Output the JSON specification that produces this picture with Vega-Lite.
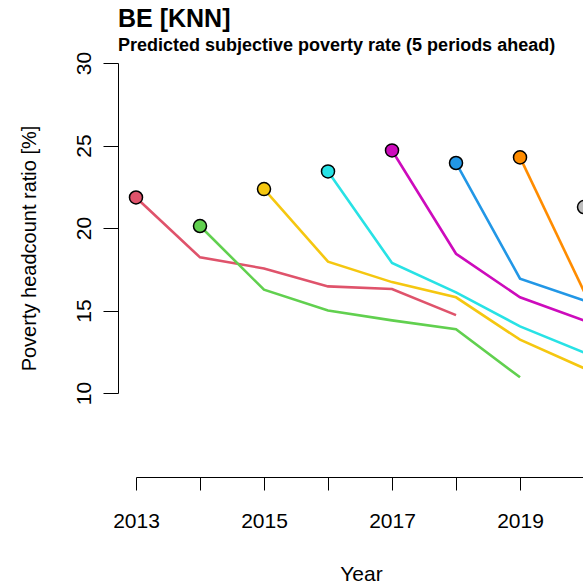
{
  "$schema": "https://vega.github.io/schema/vega-lite/v6.json",
  "autosize": {"type": "none"},
  "padding": {"left": 136, "top": 63, "right": 0, "bottom": 194},
  "width": 447,
  "height": 330,
  "background": "white",
  "config": {
    "view": {"stroke": null},
    "font": "Liberation Sans",
    "axis": {"domainColor": "black", "tickColor": "black", "labelColor": "black", "titleColor": "black", "grid": false, "labelFont": "Liberation Sans", "titleFont": "Liberation Sans", "titleFontWeight": "normal"}
  },
  "title": {
    "text": "BE [KNN]",
    "subtitle": "Predicted subjective poverty rate (5 periods ahead)",
    "anchor": "start",
    "frame": "group",
    "dx": -18,
    "offset": -4,
    "fontSize": 25,
    "fontWeight": "bold",
    "font": "Liberation Sans",
    "color": "black",
    "subtitleFont": "Liberation Sans",
    "subtitleFontSize": 18,
    "subtitleFontWeight": "bold",
    "subtitleColor": "black",
    "subtitlePadding": 5
  },
  "data": {
    "values": [
      {"origin": 2013, "year": 2013, "value": 21.85},
      {"origin": 2013, "year": 2014, "value": 18.22},
      {"origin": 2013, "year": 2015, "value": 17.55},
      {"origin": 2013, "year": 2016, "value": 16.46},
      {"origin": 2013, "year": 2017, "value": 16.3},
      {"origin": 2013, "year": 2018, "value": 14.72},
      {"origin": 2014, "year": 2014, "value": 20.12},
      {"origin": 2014, "year": 2015, "value": 16.26},
      {"origin": 2014, "year": 2016, "value": 15.0},
      {"origin": 2014, "year": 2017, "value": 14.4},
      {"origin": 2014, "year": 2018, "value": 13.86},
      {"origin": 2014, "year": 2019, "value": 10.95},
      {"origin": 2015, "year": 2015, "value": 22.36},
      {"origin": 2015, "year": 2016, "value": 17.96},
      {"origin": 2015, "year": 2017, "value": 16.72},
      {"origin": 2015, "year": 2018, "value": 15.8},
      {"origin": 2015, "year": 2019, "value": 13.23},
      {"origin": 2015, "year": 2020, "value": 11.5},
      {"origin": 2016, "year": 2016, "value": 23.43},
      {"origin": 2016, "year": 2017, "value": 17.88},
      {"origin": 2016, "year": 2018, "value": 16.1},
      {"origin": 2016, "year": 2019, "value": 14.04},
      {"origin": 2016, "year": 2020, "value": 12.45},
      {"origin": 2017, "year": 2017, "value": 24.7},
      {"origin": 2017, "year": 2018, "value": 18.44},
      {"origin": 2017, "year": 2019, "value": 15.8},
      {"origin": 2017, "year": 2020, "value": 14.4},
      {"origin": 2018, "year": 2018, "value": 23.94},
      {"origin": 2018, "year": 2019, "value": 16.93},
      {"origin": 2018, "year": 2020, "value": 15.6},
      {"origin": 2019, "year": 2019, "value": 24.28},
      {"origin": 2019, "year": 2020, "value": 16.15},
      {"origin": 2020, "year": 2020, "value": 21.27}
    ]
  },
  "encoding": {
    "x": {
      "field": "year", "type": "quantitative",
      "scale": {"domain": [2013, 2019.984], "nice": false, "zero": false},
      "axis": {
        "title": "Year", "titleFontSize": 21, "titleX": 225, "titleY": 103, "titleBaseline": "alphabetic", "titleAlign": "center",
        "values": [2013, 2014, 2015, 2016, 2017, 2018, 2019, 2020],
        "labelExpr": "datum.value % 2 == 1 ? datum.label : ''",
        "format": "d", "labelFontSize": 21, "labelPadding": 20, "tickSize": 13, "offset": 84,
        "labelOverlap": false, "labelBound": false, "labelFlush": false
      }
    },
    "y": {
      "field": "value", "type": "quantitative",
      "scale": {"domain": [10, 30], "nice": false, "zero": false},
      "axis": {
        "title": "Poverty headcount ratio [%]", "titleFontSize": 20, "titleAngle": 270, "titleX": -83, "titleY": 185, "titleBaseline": "alphabetic", "titleAlign": "center",
        "values": [10, 15, 20, 25, 30], "labelFontSize": 21, "labelAngle": 270, "labelAlign": "center", "labelBaseline": "alphabetic",
        "labelPadding": 13, "tickSize": 15, "offset": 18, "labelOverlap": false, "labelFlush": false, "labelBound": false
      }
    },
    "color": {
      "field": "origin", "type": "nominal",
      "scale": {"domain": [2013, 2014, 2015, 2016, 2017, 2018, 2019, 2020], "range": ["#DF536B", "#61D04F", "#F5C710", "#28E2E5", "#CD0BBC", "#2297E6", "#FF8C00", "#BEBEBE"]},
      "legend": null
    }
  },
  "layer": [
    {"mark": {"type": "line", "strokeWidth": 2.6}, "encoding": {"detail": {"field": "origin"}}},
    {
      "transform": [{"filter": "datum.year == datum.origin"}],
      "mark": {"type": "point", "filled": true, "size": 170, "stroke": "black", "strokeWidth": 1.5, "opacity": 1},
      "encoding": {"fill": {"field": "origin", "type": "nominal", "scale": {"domain": [2013, 2014, 2015, 2016, 2017, 2018, 2019, 2020], "range": ["#DF536B", "#61D04F", "#F5C710", "#28E2E5", "#CD0BBC", "#2297E6", "#FF8C00", "#BEBEBE"]}, "legend": null}}
    }
  ]
}
